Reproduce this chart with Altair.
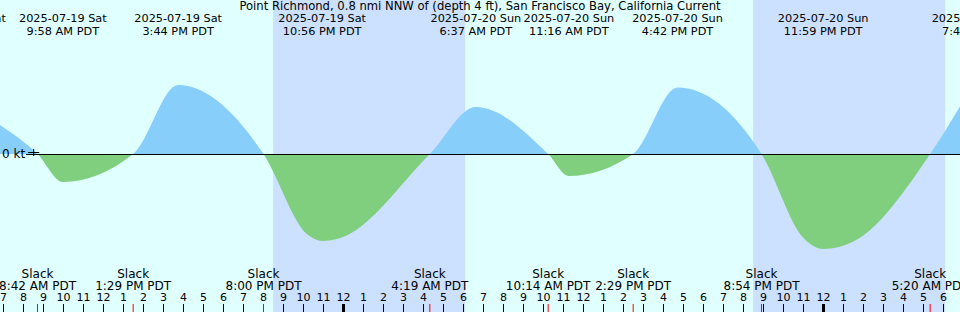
import altair as alt
import pandas as pd

# ---------------- data (time = hours after Sat 2025-07-19 07:00 PDT) ----------------
# current speed at the chart edges, slack waters, max flood / max ebb and a few read points
curve_h = [-0.175, 1.70, 2.967, 6.483, 8.733, 13.0, 15.17, 15.933, 16.835, 21.317, 23.617,
           27.233, 28.267, 31.483, 33.7, 37.9, 40.0, 40.983, 42.5, 46.333, 47.825]
curve_kt = [0.58, 0.0, -0.56, 0.0, 1.38, 0.0, -1.60, -1.74, -1.68, 0.0, 0.94,
            0.0, -0.44, 0.0, 1.33, 0.0, -1.68, -1.90, -1.75, 0.0, 0.95]

event_h = [-2.07, 2.967, 8.733, 15.933, 23.617, 28.267, 33.7, 40.983, 48.733]
event_date = ["2025-07-19 Sat", "2025-07-19 Sat", "2025-07-19 Sat", "2025-07-19 Sat",
              "2025-07-20 Sun", "2025-07-20 Sun", "2025-07-20 Sun", "2025-07-20 Sun",
              "2025-07-21 Mon"]
event_time = ["4:56 AM PDT", "9:58 AM PDT", "3:44 PM PDT", "10:56 PM PDT", "6:37 AM PDT",
              "11:16 AM PDT", "4:42 PM PDT", "11:59 PM PDT", "7:44 AM PDT"]

slack_h = [1.70, 6.483, 13.0, 21.317, 27.233, 31.483, 37.9, 46.333]
slack_time = ["8:42 AM PDT", "1:29 PM PDT", "8:00 PM PDT", "4:19 AM PDT",
              "10:14 AM PDT", "2:29 PM PDT", "8:54 PM PDT", "5:20 AM PDT"]

night_start = [13.483, 37.483]   # sunset 8:29 PM
night_end = [23.083, 47.083]     # sunrise 6:05 AM

hour_h = list(range(48))
hour_label = [str((7 + i - 1) % 12 + 1) for i in hour_h]

now_h = [1.51]

title = "Point Richmond, 0.8 nmi NNW of (depth 4 ft), San Francisco Bay, California Current"

# ---------------- style ----------------
W, H = 960, 312
DAY = "#E0FFFF"
NIGHT = "#CCE0FF"
FLOOD = "#87CEFA"
EBB = "#7FCF7F"
FONT = "DejaVu Sans"
Y_ZERO = 154
PX_PER_KT = 50

xs = alt.Scale(domain=[-0.175, 47.825], nice=False, zero=False)
ys = alt.Scale(domain=[-(H - Y_ZERO) / PX_PER_KT, Y_ZERO / PX_PER_KT], nice=False, zero=False)

curve = pd.DataFrame({"h": curve_h, "kt": curve_kt})
events = pd.DataFrame({"h": event_h, "date": event_date, "time": event_time})
slacks = pd.DataFrame({"h": slack_h, "time": slack_time})
nights = pd.DataFrame({"s": night_start, "e": night_end})
hours = pd.DataFrame({"h": hour_h, "label": hour_label})
now = pd.DataFrame({"h": now_h})
one = pd.DataFrame({"a": [0]})

vmax, vmin = max(curve_kt), min(curve_kt)
frac = vmax / (vmax - vmin)
grad = alt.Gradient(gradient="linear", x1=0, x2=0, y1=0, y2=1,
                    stops=[alt.GradientStop(offset=frac, color=FLOOD),
                           alt.GradientStop(offset=frac, color=EBB)])

X = lambda f: alt.X(f, scale=xs, axis=None)

night_layer = alt.Chart(nights).mark_rect(color=NIGHT).encode(
    x=X("s:Q"), x2="e:Q", y=alt.value(0), y2=alt.value(H))

area = alt.Chart(curve).mark_area(interpolate="monotone", fill=grad).encode(
    x=X("h:Q"), y=alt.Y("kt:Q", scale=ys, axis=None), y2=alt.datum(0))

zero_rule = alt.Chart(one).mark_rule(color="black", strokeWidth=1, yOffset=0.5).encode(
    x=alt.value(26), x2=alt.value(W), y=alt.datum(0))

kt_label = alt.Chart(one).mark_text(text="0 kt", font=FONT, fontSize=12, align="left",
                                    baseline="middle", color="black").encode(
    x=alt.value(2), y=alt.datum(0))

now_mark = alt.Chart(now).mark_point(shape="M-1,0H1M0,-0.64V0.64", size=121, filled=False,
                                     stroke="black", strokeWidth=1, opacity=1, yOffset=-1.5).encode(
    x=X("h:Q"), y=alt.datum(0))

title_layer = alt.Chart(one).mark_text(text=title, font=FONT, fontSize=11.6, baseline="middle",
                                       align="center", color="black").encode(
    x=alt.value(W / 2), y=alt.value(6.5))

ev_date = alt.Chart(events).mark_text(font=FONT, fontSize=11.3, baseline="middle", color="black").encode(
    x=X("h:Q"), y=alt.value(18.5), text="date:N")
ev_time = alt.Chart(events).mark_text(font=FONT, fontSize=11.3, baseline="middle", color="black").encode(
    x=X("h:Q"), y=alt.value(31.5), text="time:N")

sl_word = alt.Chart(slacks).mark_text(text="Slack", font=FONT, fontSize=12, baseline="middle",
                                      color="black").encode(x=X("h:Q"), y=alt.value(273.5))
sl_time = alt.Chart(slacks).mark_text(font=FONT, fontSize=12, baseline="middle", color="black").encode(
    x=X("h:Q"), y=alt.value(285.5), text="time:N")

hour_ticks = alt.Chart(hours).mark_rule(color="black").encode(
    x=X("h:Q"), y=alt.value(304), y2=alt.value(H),
    strokeWidth=alt.condition("(datum.h + 7) % 24 == 0", alt.value(3), alt.value(1)))
hour_text = alt.Chart(hours).mark_text(font=FONT, fontSize=11, baseline="middle", color="black").encode(
    x=X("h:Q"), y=alt.value(298), text="label:N")
slack_ticks = alt.Chart(slacks).mark_rule(color="red", strokeWidth=1).encode(
    x=X("h:Q"), y=alt.value(304), y2=alt.value(H))

chart = alt.layer(
    night_layer, area, zero_rule, kt_label, now_mark, title_layer, ev_date, ev_time,
    sl_word, sl_time, hour_ticks, slack_ticks, hour_text
).properties(
    width=W, height=H, background=DAY, padding=0,
    autosize=alt.AutoSizeParams(type="none")
).configure_view(stroke=None)

chart.save("out.html", embed_options={"renderer": "svg", "actions": False})
